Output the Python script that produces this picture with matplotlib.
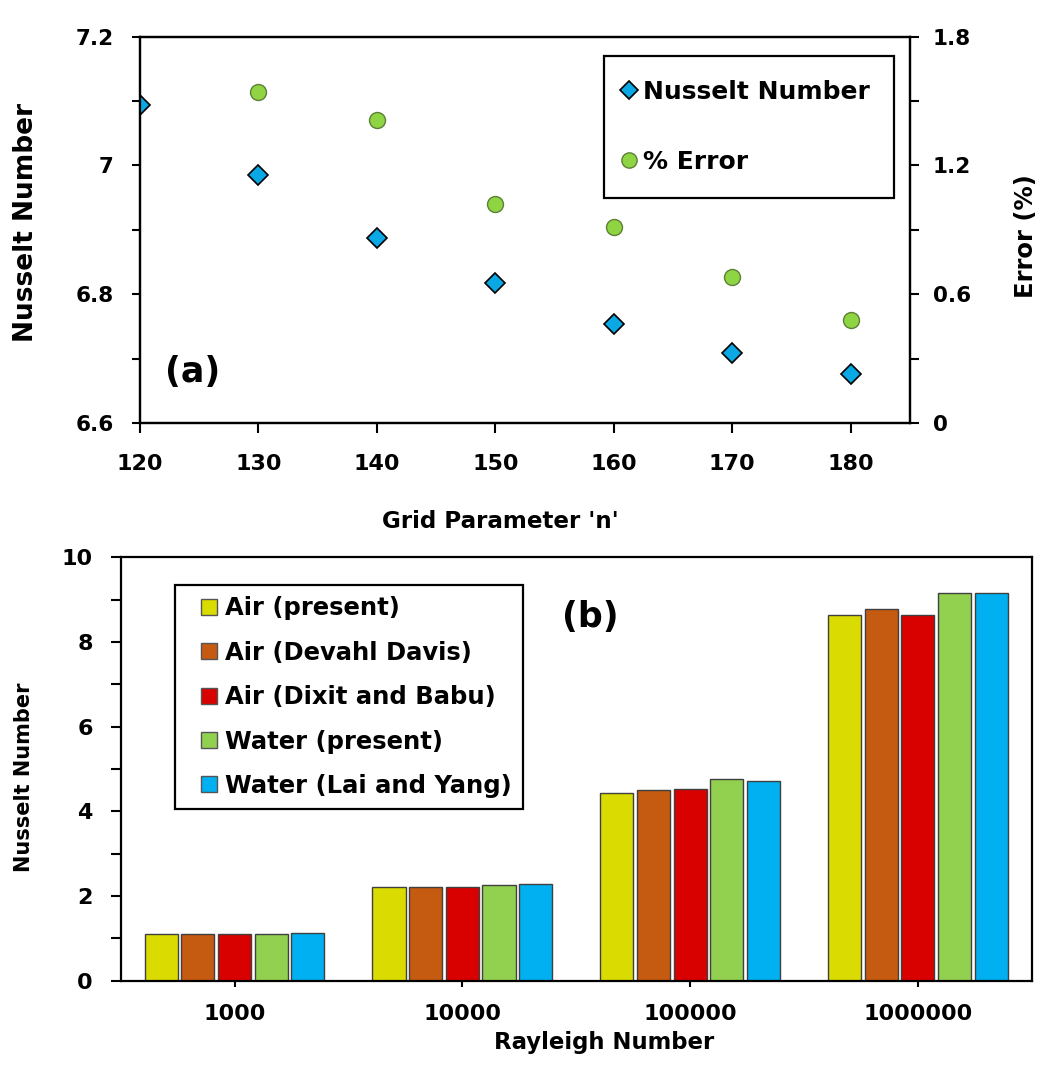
import numpy as np
from matplotlib import pyplot as plt
from matplotlib.ticker import MultipleLocator, FuncFormatter
from matplotlib.lines import Line2D

plt.rcParams['font.family'] = ['DejaVu Sans']
plt.rcParams['font.weight'] = 'bold'
plt.rcParams['axes.labelweight'] = 'bold'

# (a) 网格无关性数据
grid_n = [120, 130, 140, 150, 160, 170, 180]
nusselt_grid = [7.094, 6.985, 6.887, 6.817, 6.754, 6.709, 6.676]
err_n = [130, 140, 150, 160, 170, 180]
err_pct = [1.54, 1.41, 1.02, 0.915, 0.68, 0.48]

# (b) 验证数据
rayleigh = ['1000', '10000', '100000', '1000000']
series_names = ['Air (present)', 'Air (Devahl Davis)', 'Air (Dixit and Babu)',
                'Water (present)', 'Water (Lai and Yang)']
air_present = [1.10, 2.22, 4.44, 8.64]
air_davis = [1.10, 2.22, 4.50, 8.78]
air_dixit = [1.10, 2.22, 4.53, 8.63]
water_present = [1.11, 2.25, 4.77, 9.15]
water_lai = [1.12, 2.28, 4.72, 9.15]
bar_colors = ['#DADB00', '#C55A11', '#D90000', '#92D050', '#00B0F0']

W, H = 1043, 1072
fig = plt.figure(figsize=(W / 100, H / 100), dpi=100)


def fx(px):
    return px / W


def fy(py):
    return 1 - py / H


'''(a) 网格参数'''
ax = fig.add_axes([fx(140), fy(423), (910 - 140) / W, (423 - 36.7) / H])
ax2 = ax.twinx()

ax.plot(grid_n, nusselt_grid, linestyle='none', marker='D', markersize=10,
        markerfacecolor='#0BA8E6', markeredgecolor='black', markeredgewidth=1.2,
        label='Nusselt Number', zorder=3)
ax2.plot(err_n, err_pct, linestyle='none', marker='o', markersize=11.5,
         markerfacecolor='#8ED443', markeredgecolor='#5E7F36', markeredgewidth=1.0,
         label='% Error', zorder=3)

ax.set_xlim(120, 185)
ax.set_xticks(grid_n)
ax.set_ylim(6.6, 7.2)
ax.yaxis.set_major_locator(MultipleLocator(0.2))
ax.yaxis.set_minor_locator(MultipleLocator(0.1))
ax.yaxis.set_major_formatter(FuncFormatter(lambda v, p: f'{v:g}'))
ax2.set_ylim(0, 1.8)
ax2.yaxis.set_major_locator(MultipleLocator(0.6))
ax2.yaxis.set_minor_locator(MultipleLocator(0.3))
ax2.yaxis.set_major_formatter(FuncFormatter(lambda v, p: f'{v:g}'))

ax.tick_params(axis='x', direction='out', length=7, width=1.5, labelsize=16, pad=15)
ax.tick_params(axis='y', which='both', direction='out', length=6, width=1.5, labelsize=15.5, pad=13)
ax2.tick_params(axis='y', which='both', direction='out', length=6.5, width=1.5, labelsize=15.5, pad=10)
for a in (ax, ax2):
    for s in a.spines.values():
        s.set_linewidth(1.6)

ax.set_ylabel('Nusselt Number', fontsize=19, va='center')
ax.yaxis.set_label_coords(fx(26), fy(222), transform=fig.transFigure)
ax2.set_ylabel('Error (%)', fontsize=17.5, va='center')
ax2.yaxis.set_label_coords(fx(1026), fy(236), transform=fig.transFigure)
ax.set_xlabel("Grid Parameter 'n'", fontsize=16.6, va='center')
ax.xaxis.set_label_coords(fx(500), fy(522), transform=fig.transFigure)

ax.text(fx(193), fy(372), '(a)', transform=fig.transFigure, fontsize=25,
        ha='center', va='center')

h1, l1 = ax.get_legend_handles_labels()
h2, l2 = ax2.get_legend_handles_labels()
leg = ax2.legend(h1 + h2, l1 + l2, loc='upper left',
                 bbox_to_anchor=(fx(604), fy(55.7)), bbox_transform=fig.transFigure,
                 borderaxespad=0, fontsize=18, borderpad=0.96, labelspacing=1.85,
                 handlelength=0.05, handletextpad=0.55, fancybox=False, framealpha=1,
                 edgecolor='black', numpoints=1)
leg.get_frame().set_linewidth(1.6)
leg.legend_handles[0].set_markersize(9)
leg.legend_handles[1].set_markersize(11)

'''(b) 瑞利数柱状图'''
bx = fig.add_axes([fx(120.7), fy(980.7), (1031.7 - 120.7) / W, (980.7 - 557.3) / H])
x = np.arange(len(rayleigh))
all_series = [air_present, air_davis, air_dixit, water_present, water_lai]
for i, vals in enumerate(all_series):
    bx.bar(x + (i - 2) * 0.161, vals, width=0.145, color=bar_colors[i],
           edgecolor='#404040', linewidth=1.0, zorder=2)

bx.set_xlim(-0.5, 3.5)
bx.set_xticks(x)
bx.set_xticklabels(rayleigh)
bx.set_ylim(0, 10)
bx.yaxis.set_major_locator(MultipleLocator(2))
bx.yaxis.set_minor_locator(MultipleLocator(1))
bx.tick_params(axis='x', direction='out', length=4.5, width=1.5, labelsize=16, pad=12)
bx.tick_params(axis='y', which='both', direction='out', length=7, width=1.5, labelsize=16, pad=13)
for s in bx.spines.values():
    s.set_linewidth(1.6)

bx.set_ylabel('Nusselt Number', fontsize=15, va='center')
bx.yaxis.set_label_coords(fx(24), fy(777), transform=fig.transFigure)
bx.set_xlabel('Rayleigh Number', fontsize=16.4, va='center')
bx.xaxis.set_label_coords(fx(604), fy(1042), transform=fig.transFigure)

bx.text(fx(590), fy(617), '(b)', transform=fig.transFigure, fontsize=25,
        ha='center', va='center')

handles = [Line2D([], [], linestyle='none', marker='s', markersize=12,
                  markerfacecolor=c, markeredgecolor='#555555', markeredgewidth=1.0)
           for c in bar_colors]
legb = bx.legend(handles, series_names, loc='upper left',
                 bbox_to_anchor=(fx(174.7), fy(585)), bbox_transform=fig.transFigure,
                 borderaxespad=0, fontsize=17.5, borderpad=0.465, labelspacing=0.84,
                 handlelength=1.87, handletextpad=-0.26, fancybox=False, framealpha=1,
                 edgecolor='black', numpoints=1)
legb.get_frame().set_linewidth(1.6)

plt.savefig('out.png', dpi=100)
